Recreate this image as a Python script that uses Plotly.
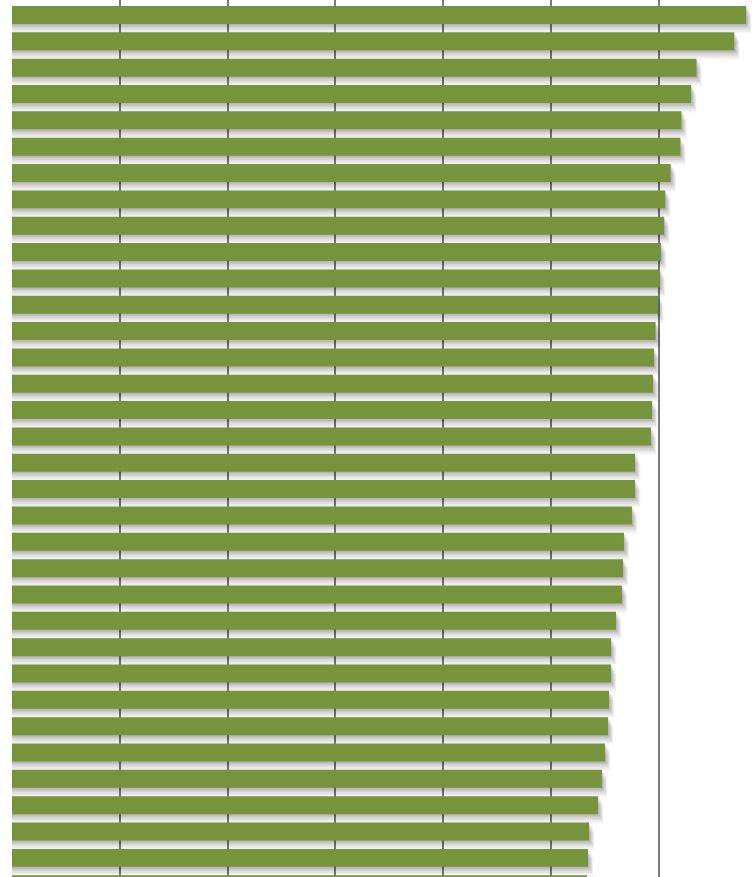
import plotly.graph_objects as go

categories = [str(i) for i in range(1, 35)]
values = [6.81, 6.70, 6.35, 6.30, 6.21, 6.20, 6.11, 6.06, 6.05, 6.02, 6.01, 5.995,
          5.97, 5.955, 5.946, 5.937, 5.927, 5.779, 5.779, 5.751, 5.677, 5.668, 5.659,
          5.603, 5.557, 5.557, 5.538, 5.529, 5.501, 5.473, 5.436, 5.353, 5.343, 5.334]
grid_ticks = [1, 2, 3, 4, 5, 6, 7]

GREEN = "#77933C"
BAR_W = 0.683

fig = go.Figure()

# soft drop shadow emulated with layered translucent bars
shadow_layers = [(0.05, 0.010, 0.07), (0.10, 0.020, 0.07), (0.16, 0.030, 0.06),
                 (0.23, 0.038, 0.05), (0.30, 0.045, 0.04), (0.36, 0.050, 0.03)]
for dy, dx, alpha in shadow_layers:
    fig.add_trace(go.Bar(
        y=categories, x=[v + dx for v in values], orientation="h",
        width=BAR_W, offset=-BAR_W / 2 + dy,
        marker=dict(color=f"rgba(0,0,0,{alpha})", line=dict(width=0)),
        hoverinfo="skip", showlegend=False,
    ))

fig.add_trace(go.Bar(
    y=categories, x=values, orientation="h",
    width=BAR_W, offset=-BAR_W / 2,
    marker=dict(color=GREEN, line=dict(width=0)),
    showlegend=False,
))

fig.update_layout(
    width=756, height=877,
    margin=dict(l=12, r=0, t=0, b=0),
    paper_bgcolor="white", plot_bgcolor="white",
    barmode="overlay",
    xaxis=dict(range=[0, 744 / 107.8], tickmode="array", tickvals=grid_ticks,
               showticklabels=False, showgrid=True, gridcolor="#7a7a7a", gridwidth=2,
               zeroline=False, showline=False, ticks=""),
    yaxis=dict(type="category", range=[32.726, -0.5695], showticklabels=False,
               showgrid=False, zeroline=False, showline=False, ticks=""),
)

fig.write_html("out.html")
